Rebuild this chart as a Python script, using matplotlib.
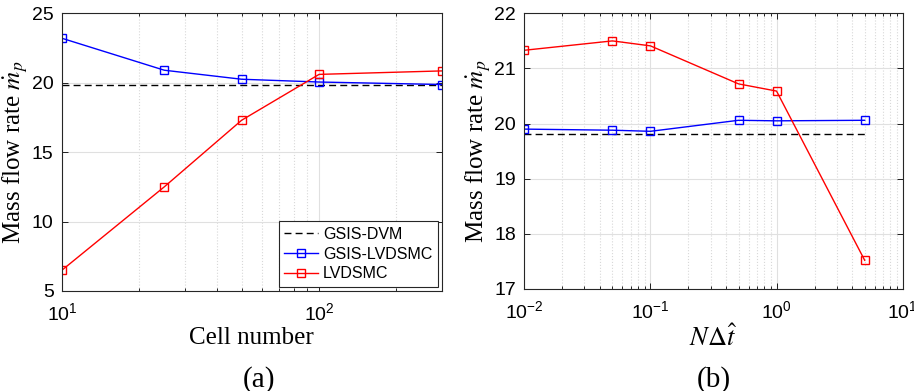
import numpy as np
import matplotlib.pyplot as plt

# ---- data ----
cells = [10, 25, 50, 100, 300]
gsis_lvdsmc_a = [23.2, 20.9, 20.25, 20.05, 19.87]
lvdsmc_a = [6.5, 12.5, 17.3, 20.6, 20.85]
gsis_dvm_a = 19.82

ndt = [0.01, 0.05, 0.1, 0.5, 1, 5]
gsis_lvdsmc_b = [19.90, 19.88, 19.86, 20.06, 20.05, 20.06]
lvdsmc_b = [21.33, 21.50, 21.41, 20.72, 20.59, 17.52]
gsis_dvm_b = 19.82

plt.rcParams['mathtext.fontset'] = 'stix'
plt.rcParams['xtick.direction'] = 'in'
plt.rcParams['ytick.direction'] = 'in'

SANS = 'Liberation Sans'
SERIF = 'Liberation Serif'

fig = plt.figure(figsize=(9.14, 3.91), dpi=100)
ax1 = fig.add_axes([0.0678, 0.2558, 0.4155, 0.7102])
ax2 = fig.add_axes([0.5736, 0.2609, 0.4140, 0.7050])


def style(ax):
    ax.set_xscale('log')
    ax.grid(True, which='major', color='#e0e0e0', linewidth=0.8)
    ax.grid(True, which='minor', axis='x', color='#d8d8d8', linestyle=':', linewidth=0.8)
    ax.set_axisbelow(True)
    ax.tick_params(which='both', top=True, right=True, labelsize=14, width=0.6)
    ax.tick_params(which='major', length=4)
    ax.tick_params(which='minor', length=2)
    ax.tick_params(axis='x', which='both', pad=8)
    ax.tick_params(axis='y', pad=6)
    for lab in ax.get_xticklabels() + ax.get_yticklabels():
        lab.set_fontfamily(SANS)
    for s in ax.spines.values():
        s.set_linewidth(0.8)
        s.set_color('#262626')
    ax.set_ylabel(r'Mass flow rate $\dot{m}_p$', family=SERIF, fontsize=18, labelpad=1)


mk = dict(marker='s', markersize=5.5, markerfacecolor='none', linewidth=1.0, markeredgewidth=1.0)

# (a)
ax1.plot(cells, [gsis_dvm_a] * len(cells), 'k--', linewidth=1.0, dashes=(5, 3), label='GSIS-DVM')
ax1.plot(cells, gsis_lvdsmc_a, color='#0000ff', label='GSIS-LVDSMC', **mk)
ax1.plot(cells, lvdsmc_a, color='#ff0000', label='LVDSMC', **mk)
ax1.set_xlim(10, 300)
ax1.set_ylim(5, 25)
ax1.set_yticks([5, 10, 15, 20, 25])
style(ax1)
ax1.set_xlabel('Cell number', family=SERIF, fontsize=18, labelpad=2)
leg = ax1.legend(loc='lower right', prop={'family': SANS, 'size': 11.5}, fancybox=False,
                 framealpha=1, edgecolor='#262626', borderaxespad=0.25, handlelength=2.1,
                 handletextpad=0.3, labelspacing=0.3, borderpad=0.35)
leg.get_frame().set_linewidth(0.8)

# (b)
ax2.plot(ndt, [gsis_dvm_b] * len(ndt), 'k--', linewidth=1.0, dashes=(5, 3), label='GSIS-DVM')
ax2.plot(ndt, gsis_lvdsmc_b, color='#0000ff', label='GSIS-LVDSMC', **mk)
ax2.plot(ndt, lvdsmc_b, color='#ff0000', label='LVDSMC', **mk)
ax2.set_xlim(0.01, 10)
ax2.set_ylim(17, 22)
ax2.set_yticks([17, 18, 19, 20, 21, 22])
style(ax2)
ax2.set_xlabel(r'$N\Delta\hat{t}$', fontsize=19, labelpad=2)

fig.text(0.2834, 0.012, '(a)', family=SERIF, fontsize=21, ha='center')
fig.text(0.7812, 0.012, '(b)', family=SERIF, fontsize=21, ha='center')

fig.savefig('out.png', dpi=100)
